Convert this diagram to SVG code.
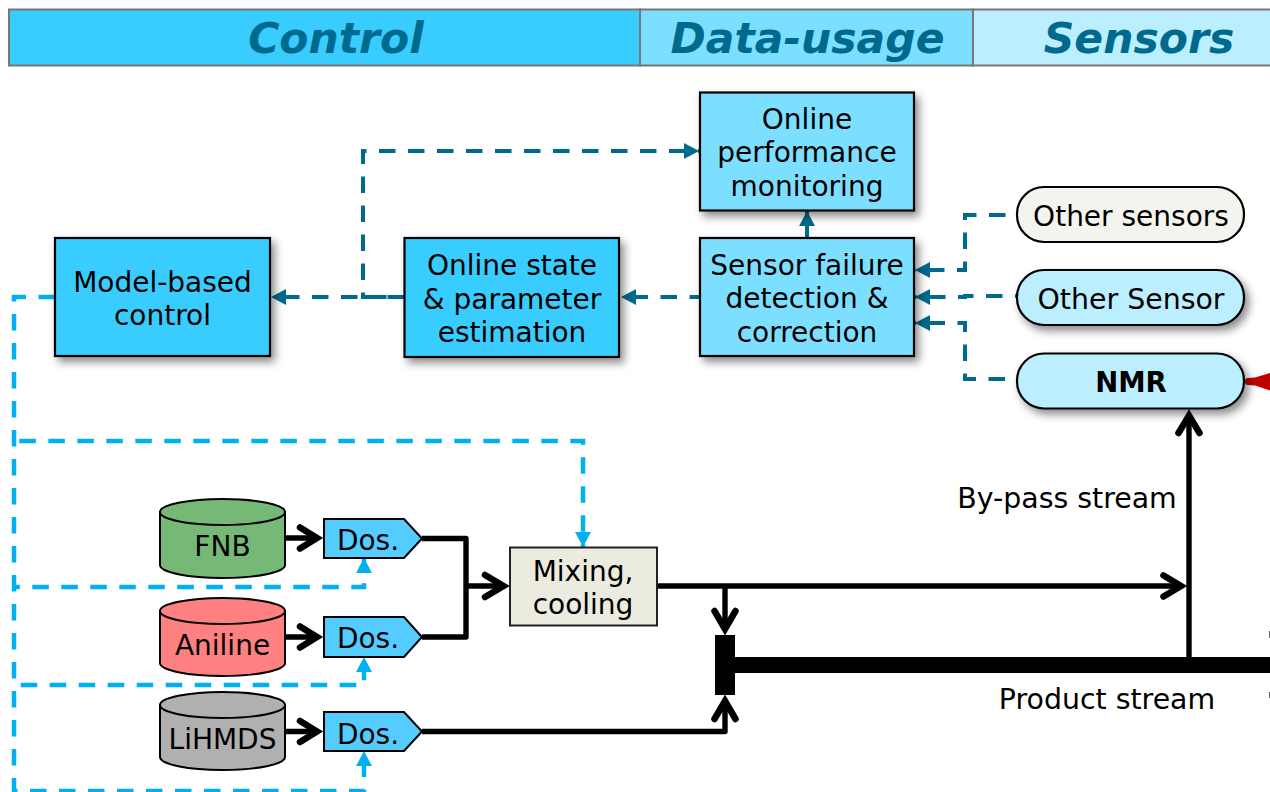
<svg xmlns="http://www.w3.org/2000/svg" width="1270" height="792" viewBox="0 0 1270 792">
<style>
text{font-family:"DejaVu Sans",Verdana,sans-serif;font-size:28px;fill:#000;text-anchor:middle}
.h{font-size:42.5px;font-weight:bold;font-style:italic;fill:#006a8e}
.box{stroke:#000;stroke-width:2.200}
.a{fill:#38ccff}.b{fill:#7cdfff}.c{fill:#bbeeff}
.band{stroke:#777;stroke-width:2}
.dd{fill:none;stroke:#006a8e;stroke-width:4;stroke-dasharray:16.500 12.500}
.dl{fill:none;stroke:#00b0f0;stroke-width:4.500;stroke-dasharray:16.500 12.500}
.bk{fill:none;stroke:#000;stroke-width:5.400;stroke-linejoin:round}
.hd{fill:none;stroke:#000;stroke-width:6.500;stroke-linecap:round;stroke-linejoin:miter}
.cy{stroke:#000;stroke-width:2}
.dos{fill:#55ccff;stroke:#000;stroke-width:2}
</style>
<defs>
<filter id="sh" x="-10%" y="-15%" width="130%" height="140%"><feDropShadow dx="4" dy="5" stdDeviation="4" flood-color="#000" flood-opacity="0.45"/></filter>
<marker id="ad" markerUnits="userSpaceOnUse" markerWidth="16" markerHeight="16" refX="15" refY="8" orient="auto"><path d="M0 0L15 8L0 16Z" fill="#006a8e"/></marker>
<marker id="al" markerUnits="userSpaceOnUse" markerWidth="16" markerHeight="16" refX="15" refY="8" orient="auto"><path d="M0 0L15 8L0 16Z" fill="#00b0f0"/></marker>
</defs>
<g id="header">
<rect class="band a" x="9" y="9.500" width="631" height="56"/>
<rect class="band b" x="640" y="9.500" width="333" height="56"/>
<rect class="band c" x="973" y="9.500" width="300" height="56"/>
<text class="h" x="336" y="53">Control</text>
<text class="h" x="807.500" y="53">Data-usage</text>
<text class="h" x="1139" y="53">Sensors</text>
</g>
<g id="connectors">
<path class="dd" d="M699 297H621" stroke-dashoffset="7" marker-end="url(#ad)"/>
<path class="dd" d="M404 297H271" stroke-dashoffset="11.500" marker-end="url(#ad)"/>
<path class="dd" d="M404 297H363V151H699" marker-end="url(#ad)"/>
<path d="M807 238V211" fill="none" stroke="#006a8e" stroke-width="4" marker-end="url(#ad)"/>
<path class="dd" d="M1005.500 215H965V270H915" marker-end="url(#ad)"/>
<path class="dd" d="M1017 296H965V297H915" stroke-dashoffset="14.500" marker-end="url(#ad)"/>
<path class="dd" d="M1005 379H965V323H915" marker-end="url(#ad)"/>
<path class="dl" d="M55 297H14V791H364V751" marker-end="url(#al)"/>
<path class="dl" d="M14 441H583V547" stroke-dasharray="16.500 12.580" stroke-dashoffset="23.700" marker-end="url(#al)"/>
<path class="dl" d="M14 587H364V558" stroke-dashoffset="10.700" marker-end="url(#al)"/>
<path class="dl" d="M14 685H364V657" stroke-dashoffset="22.300" marker-end="url(#al)"/>
<path class="bk" d="M285 538H318M285 637H318M285 731.500H318"/>
<path class="hd" d="M300 527.500L317 538L300 548.500M300 626.500L317 637L300 647.500M300 721L317 731.500L300 742"/>
<path class="bk" d="M422 538.500H466V637H422M466 586H504"/>
<path class="hd" d="M485 575L503.500 586L485 597"/>
<path class="bk" d="M422 731.500H725V702"/>
<path class="hd" d="M714.500 719L725 701L735.500 719"/>
<path class="bk" d="M657 586H1181"/>
<path class="hd" d="M1163.500 575.500L1181 586L1163.500 596.500"/>
<path class="bk" d="M725 586V628"/>
<path class="hd" d="M714.500 611L725 629L735.500 611"/>
<path class="bk" d="M1189 660V416"/>
<path class="hd" d="M1178.500 433L1189 415.500L1199.500 433"/>
<rect x="715" y="635" width="20" height="60" fill="#000"/>
<rect x="735" y="657" width="535" height="16" fill="#000"/>
<path d="M1245 381.500Q1245 378 1248 378L1255 377.500L1270 373V390.500L1255 385.500L1248 385Q1245 385 1245 381.500Z" fill="#c00000"/>
<path d="M1269 631h1v7h-1zM1269 692h1v6h-1z" fill="#666"/>
</g>
<g id="model-based-control"><rect class="box a" filter="url(#sh)" x="55" y="238" width="215" height="118"/><text x="162.500" y="292">Model-based</text><text x="162.500" y="325">control</text></g>
<g id="online-state"><rect class="box a" filter="url(#sh)" x="404.500" y="238" width="214.500" height="119"/><text x="512" y="275">Online state</text><text x="512" y="309">&amp; parameter</text><text x="512" y="342">estimation</text></g>
<g id="online-performance"><rect class="box b" filter="url(#sh)" x="700" y="92.500" width="214" height="118"/><text x="807" y="129">Online</text><text x="807" y="162">performance</text><text x="807" y="196">monitoring</text></g>
<g id="sensor-failure"><rect class="box b" filter="url(#sh)" x="700" y="238" width="214" height="118"/><text x="807" y="275">Sensor failure</text><text x="807" y="308">detection &amp;</text><text x="807" y="342">correction</text></g>
<g id="other-sensors"><rect class="box" fill="#f4f4ee" x="1017" y="187" width="227" height="55" rx="27"/><text x="1131" y="226">Other sensors</text></g>
<g id="other-sensor"><rect class="box c" filter="url(#sh)" x="1017" y="270" width="227" height="55" rx="27"/><text x="1131" y="309" style="font-size:28.400px">Other Sensor</text></g>
<g id="nmr"><rect class="box c" filter="url(#sh)" x="1017" y="353.500" width="227" height="55" rx="27"/><text x="1131" y="392" font-weight="bold" style="font-size:27.500px">NMR</text></g>
<g id="fnb"><path class="cy" fill="#76b976" d="M160 512V565A62.500 13 0 0 0 285 565V512Z"/><ellipse class="cy" fill="#76b976" cx="222.500" cy="512" rx="62.500" ry="13"/><text x="222.500" y="556">FNB</text></g>
<g id="aniline"><path class="cy" fill="#ff8080" d="M160 611V663A62.500 13 0 0 0 285 663V611Z"/><ellipse class="cy" fill="#ff8080" cx="222.500" cy="611" rx="62.500" ry="13"/><text x="222.500" y="655">Aniline</text></g>
<g id="lihmds"><path class="cy" fill="#b0b0b0" d="M160 705V757A62.500 13 0 0 0 285 757V705Z"/><ellipse class="cy" fill="#b0b0b0" cx="222.500" cy="705" rx="62.500" ry="13"/><text x="222.500" y="749">LiHMDS</text></g>
<g id="dos1"><path class="dos" d="M324 519H404L422 538.500L404 558H324Z"/><text x="368" y="550">Dos.</text></g>
<g id="dos2"><path class="dos" d="M324 617H404L422 637L404 657H324Z"/><text x="368" y="648">Dos.</text></g>
<g id="dos3"><path class="dos" d="M324 712H404L422 731.500L404 751H324Z"/><text x="368" y="744">Dos.</text></g>
<g id="mixing"><rect x="510" y="547.500" width="147" height="78" fill="#ecebdf" stroke="#222" stroke-width="2"/><text x="583" y="581">Mixing,</text><text x="583" y="614">cooling</text></g>
<text x="1067" y="508" style="font-size:28.400px">By-pass stream</text>
<text x="1107" y="709" style="font-size:28.400px">Product stream</text>
</svg>
